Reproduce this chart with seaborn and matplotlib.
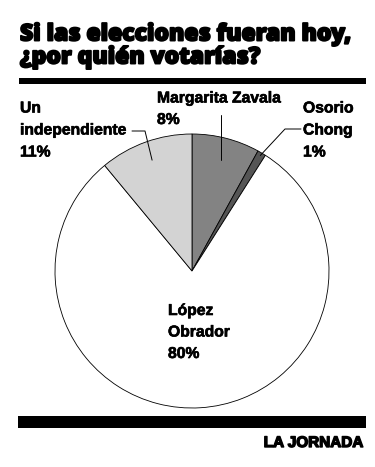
import matplotlib
matplotlib.use("Agg")
import matplotlib.pyplot as plt
import matplotlib.patheffects as pe
from matplotlib.patches import Rectangle
import seaborn as sns
import numpy as np

# ---- data ----
categories = ["Margarita Zavala", "Osorio Chong", "López Obrador", "Un independiente"]
values = [8, 1, 80, 11]
label_texts = ["Margarita Zavala\n8%", "Osorio\nChong\n1%", "López\nObrador\n80%", "Un\nindependiente\n11%"]
title_text = "Si las elecciones fueran hoy,\n¿por quién votarías?"
source_text = "LA JORNADA"

sns.set_theme(style="white")
plt.rcParams['font.family'] = ['Liberation Sans', 'DejaVu Sans']

W, H = 375, 467
fig = plt.figure(figsize=(W / 100, H / 100), dpi=100)
fig.patch.set_facecolor("white")

def fx(x):
    return x / W

def fy(y):
    return 1 - y / H

# pie axes
cx, cy, r = 192, 271, 137
ax = fig.add_axes([fx(cx - r), fy(cy + r), 2 * r / W, 2 * r / H])
colors = ["#838383", "#555555", "#ffffff", "#d3d3d3"]
wedges, _ = ax.pie(values, colors=colors, startangle=90, counterclock=False,
                   wedgeprops=dict(edgecolor="black", linewidth=0.6))
ax.set_xlim(-1, 1)
ax.set_ylim(-1, 1)
ax.set_aspect("equal")
ax.axis("off")

def wedge_point(i, rad):
    w = wedges[i]
    a = np.deg2rad((w.theta1 + w.theta2) / 2)
    return cx + rad * r * np.cos(a), cy - rad * r * np.sin(a)

def line(pts):
    xs = [fx(p[0]) for p in pts]
    ys = [fy(p[1]) for p in pts]
    fig.add_artist(plt.Line2D(xs, ys, color="black", lw=0.7, transform=fig.transFigure))

LFS = 11.3

def multi(x, first_base, text, step=22.0):
    for k, ln in enumerate(text.split("\n")):
        fig.text(fx(x), fy(first_base + k * step), ln, fontsize=LFS, fontweight="bold",
                 color="black", va="baseline", ha="left",
                 path_effects=[pe.withStroke(linewidth=0.45, foreground="black")])

multi(157, 102.5, label_texts[0], step=21.5)
multi(303, 112.5, label_texts[1])
multi(168, 315, label_texts[2], step=21.5)
multi(20, 112.5, label_texts[3])

# leader lines
px, py = wedge_point(0, 0.84)
line([(px, 115), (px, py)])
px, py = wedge_point(1, 0.98)
line([(301, 129), (285, 129), (px, py)])
px, py = wedge_point(3, 0.86)
line([(132, 131), (145, 131), (px, py)])

# title
for k, ln in enumerate(title_text.split("\n")):
    fig.text(fx(20), fy(40.5 + k * 23), ln, fontsize=16.5, fontweight="heavy",
             family=["Open Sans", "DejaVu Sans"], color="black",
             va="baseline", ha="left",
             path_effects=[pe.withStroke(linewidth=1.4, foreground="black")])

# bars
fig.add_artist(Rectangle((fx(19), fy(84)), fx(366) - fx(19), (84 - 78) / H,
                         transform=fig.transFigure, color="black", lw=0))
fig.add_artist(Rectangle((fx(18), fy(428)), fx(366) - fx(18), (428 - 416) / H,
                         transform=fig.transFigure, color="black", lw=0))

fig.text(fx(363), fy(447), source_text, fontsize=11.0, fontweight="bold",
         color="black", ha="right", va="baseline",
         path_effects=[pe.withStroke(linewidth=1.0, foreground="black")])

fig.savefig("out.png", dpi=100, facecolor="white")
